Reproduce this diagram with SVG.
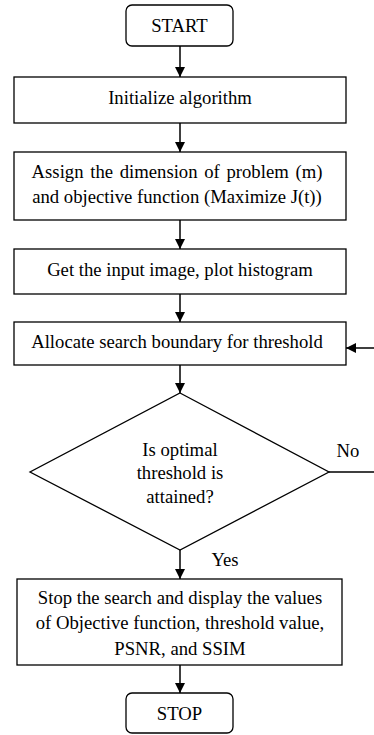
<svg xmlns="http://www.w3.org/2000/svg" width="374" height="735" viewBox="0 0 374 735">
<defs>
<marker id="ah" viewBox="0 0 10 10" refX="10" refY="5" markerWidth="10" markerHeight="10" markerUnits="userSpaceOnUse" orient="auto">
<path d="M0,0 L10,5 L0,10 Z" fill="#000"/>
</marker>
</defs>
<style>
.box{fill:#fff;stroke:#000;stroke-width:1.3}
.t{font-family:"Liberation Serif","Times New Roman",serif;font-size:18.7px;fill:#000;text-anchor:middle}
.c{fill:none;stroke:#000;stroke-width:1.5;marker-end:url(#ah)}
</style>
<rect width="374" height="735" fill="#fff"/>
<g id="start"><rect class="box" x="126" y="5" width="107" height="41" rx="6"/><text class="t" x="179.5" y="32">START</text></g>
<g id="init"><rect class="box" x="14" y="77" width="332" height="46"/><text class="t" x="180" y="104">Initialize algorithm</text></g>
<g id="assign"><rect class="box" x="14" y="152" width="332" height="68"/>
<text class="t" x="177" y="178" word-spacing="2">Assign the dimension of problem (m)</text>
<text class="t" x="177" y="203">and objective function (Maximize J(t))</text></g>
<g id="get"><rect class="box" x="14" y="249" width="332" height="45"/><text class="t" x="180" y="276">Get the input image, plot histogram</text></g>
<g id="alloc"><rect class="box" x="14" y="322" width="332" height="43"/><text class="t" x="177" y="348">Allocate search boundary for threshold</text></g>
<g id="decision"><polygon class="box" points="180,393 329,472 180,550 30,472"/>
<text class="t" x="180" y="456">Is optimal</text>
<text class="t" x="180" y="479">threshold is</text>
<text class="t" x="180" y="503">attained?</text></g>
<g id="stop-search"><rect class="box" x="17" y="579" width="325" height="86"/>
<text class="t" x="180" y="604">Stop the search and display the values</text>
<text class="t" x="180" y="629">of Objective function, threshold value,</text>
<text class="t" x="180" y="655">PSNR, and SSIM</text></g>
<g id="stop"><rect class="box" x="126" y="693" width="107" height="40" rx="6"/><text class="t" x="179.5" y="720">STOP</text></g>
<g id="connectors">
<line class="c" x1="180" y1="46" x2="180" y2="77"/>
<line class="c" x1="180" y1="123" x2="180" y2="152"/>
<line class="c" x1="180" y1="220" x2="180" y2="249"/>
<line class="c" x1="180" y1="294" x2="180" y2="322"/>
<line class="c" x1="180" y1="365" x2="180" y2="393"/>
<line class="c" x1="180" y1="550" x2="180" y2="579"/>
<line class="c" x1="180" y1="665" x2="180" y2="693"/>
<path class="c" d="M329,472 H380 V348 H346"/>
<text class="t" x="348" y="457">No</text>
<text class="t" x="225" y="566">Yes</text>
</g>
</svg>
